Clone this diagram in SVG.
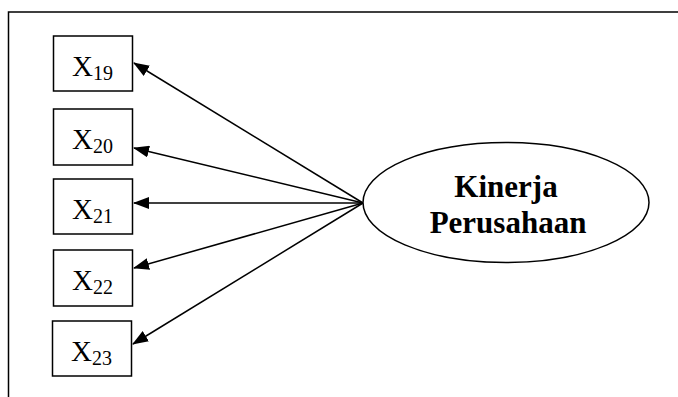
<svg xmlns="http://www.w3.org/2000/svg" width="678" height="397" viewBox="0 0 678 397">
<defs>
<style>
.box{fill:#fff;stroke:#000;stroke-width:1.5}
.x{font-family:"Liberation Serif","Times New Roman",serif;font-size:29px;fill:#000}
.sub{font-size:20px}
.conn{stroke:#000;stroke-width:1.5;fill:none;marker-end:url(#ah)}
.lbl{font-family:"Liberation Serif","Times New Roman",serif;font-size:31px;font-weight:bold;fill:#000;text-anchor:middle}
</style>
<marker id="ah" markerWidth="16" markerHeight="12" refX="15" refY="6" orient="auto" markerUnits="userSpaceOnUse">
<path d="M0,0 L16,6 L0,12 Z" fill="#000"/>
</marker>
</defs>
<rect width="678" height="397" fill="#fff"/>
<path d="M8.5,397 V12 H678" fill="none" stroke="#000" stroke-width="1.5"/>
<g id="connectors">
<line class="conn" x1="363" y1="203" x2="134" y2="63"/>
<line class="conn" x1="363" y1="203" x2="134" y2="148"/>
<line class="conn" x1="363" y1="203" x2="134" y2="203"/>
<line class="conn" x1="363" y1="203" x2="134" y2="268"/>
<line class="conn" x1="363" y1="203" x2="133" y2="344"/>
</g>
<g id="x19"><rect class="box" x="53.5" y="36" width="79" height="55"/><text class="x" x="72" y="76">X<tspan class="sub" dy="4">19</tspan></text></g>
<g id="x20"><rect class="box" x="53.5" y="109" width="79" height="56"/><text class="x" x="72" y="149">X<tspan class="sub" dy="4">20</tspan></text></g>
<g id="x21"><rect class="box" x="53.5" y="179" width="79" height="55"/><text class="x" x="72" y="219">X<tspan class="sub" dy="4">21</tspan></text></g>
<g id="x22"><rect class="box" x="53.5" y="250" width="79" height="56"/><text class="x" x="72" y="290">X<tspan class="sub" dy="4">22</tspan></text></g>
<g id="x23"><rect class="box" x="52.5" y="321" width="79" height="55"/><text class="x" x="71" y="361">X<tspan class="sub" dy="4">23</tspan></text></g>
<g id="kinerja"><ellipse cx="506" cy="202.5" rx="143" ry="60" fill="#fff" stroke="#000" stroke-width="1.5"/><text class="lbl" x="506" y="197">Kinerja</text><text class="lbl" x="508" y="233">Perusahaan</text></g>
</svg>
